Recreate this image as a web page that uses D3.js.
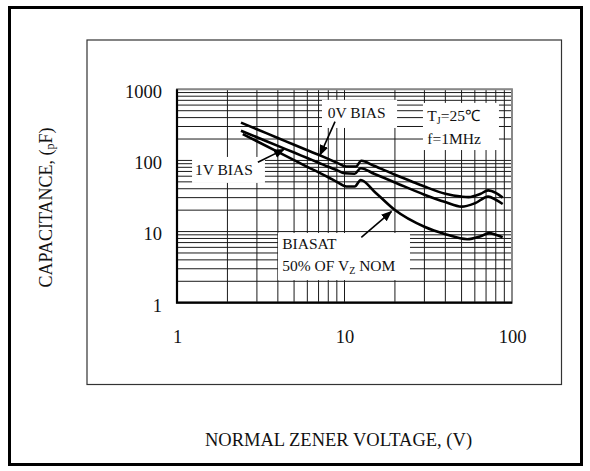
<!DOCTYPE html>
<html>
<head>
<meta charset="utf-8">
<script src="https://cdn.jsdelivr.net/npm/d3@7"></script>
<style>
  body { margin: 0; background: #fff; }
  svg text { font-family: "Liberation Serif", "Times New Roman", serif; fill: #111; }
</style>
</head>
<body>
<svg id="chart" width="590" height="471"></svg>
<script>
// capacitance vs nominal zener voltage (log-log)
var voltsTop = [2.41, 3, 4, 5, 6, 7, 8, 9, 10.25, 11.7, 12.6, 15, 20, 25, 30, 40, 50, 55, 65, 72, 80, 88];
var cap0V    = [340, 274, 207, 166, 139, 120, 105, 93, 82, 82, 99, 84, 63, 51, 43, 34, 31, 30.5, 34, 38, 35, 30];

var voltsMid = [2.41, 3, 4, 5, 6, 7, 8, 9, 10, 11.5, 12.5, 15, 20, 30, 40, 50, 60, 72, 80, 88];
var cap1V    = [262, 212, 160, 129, 108, 93, 81.5, 73, 66, 65, 77.7, 65, 49, 33, 26, 22.4, 25, 31, 28, 24.4];

var voltsLow = [2.47, 3, 4, 5, 6, 7, 8, 9, 10.25, 11.5, 12.5, 15, 20, 30, 40, 54, 65, 73, 80, 88];
var capHalf  = [234, 186, 132, 101, 81, 68, 58, 50, 43, 43, 53, 37, 20.1, 11.7, 9.2, 7.8, 8.6, 9.5, 9, 8.3];

var xTickLabels = [1, 10, 100];
var yTickLabels = [1, 10, 100, 1000];

// annotation boxes [v0, v1, c0, c1] in data units
var boxes = [
  [7.34, 20.6, 711, 286],    // 0V BIAS
  [29.4, 83.6, 644, 140],    // TJ / f
  [1.23, 3.35, 112, 48.3],   // 1V BIAS
  [4.01, 24.6, 9.55, 2.08]   // BIASAT
];
// arrows [fromV, fromC, toV, toC]
var arrows = [
  [8.78, 351, 7.14, 119],
  [3.04, 94.3, 4.35, 143],
  [12.6, 8.3, 19.05, 19.1]
];

var svg = d3.select("#chart");

svg.append("rect").attr("width", 590).attr("height", 471).attr("fill", "#fff");

// outer frame + inner box
svg.append("rect")
  .attr("x", 9.5).attr("y", 7.5).attr("width", 572).attr("height", 457)
  .attr("fill", "none").attr("stroke", "#000").attr("stroke-width", 3);
svg.append("rect")
  .attr("x", 87).attr("y", 40).attr("width", 474.5).attr("height", 344.5)
  .attr("fill", "none").attr("stroke", "#333").attr("stroke-width", 1.2);

var x = d3.scaleLog().domain([1, 100]).range([177, 512]);
var y = d3.scaleLog().domain([1, 1000]).range([302.7, 89.3]);

var g = svg.append("g");

// grid
g.selectAll(".vgrid").data(x.ticks()).enter().append("line")
  .attr("x1", d => x(d)).attr("x2", d => x(d))
  .attr("y1", y(1)).attr("y2", y(1000))
  .attr("stroke", "#1a1a1a").attr("stroke-width", 1);
g.selectAll(".hgrid").data(y.ticks()).enter().append("line")
  .attr("x1", x(1)).attr("x2", x(100))
  .attr("y1", d => y(d)).attr("y2", d => y(d))
  .attr("stroke", "#1a1a1a").attr("stroke-width", 1);

// white label boxes
g.selectAll(".box").data(boxes).enter().append("rect")
  .attr("x", d => x(d[0])).attr("y", d => y(d[2]))
  .attr("width", d => x(d[1]) - x(d[0]))
  .attr("height", d => y(d[3]) - y(d[2]))
  .attr("fill", "#fff");

// plot frame
g.append("rect")
  .attr("x", x(1)).attr("y", y(1000))
  .attr("width", x(100) - x(1)).attr("height", y(1) - y(1000))
  .attr("fill", "none").attr("stroke", "#888").attr("stroke-width", 2);
g.append("path")
  .attr("d", "M" + x(1) + "," + y(1000) + "V" + y(1) + "H" + x(100))
  .attr("fill", "none").attr("stroke", "#000").attr("stroke-width", 2.2);

// curves
var line = d3.line()
  .x(d => x(d[0])).y(d => y(d[1]))
  .curve(d3.curveMonotoneX);

[[voltsTop, cap0V], [voltsMid, cap1V], [voltsLow, capHalf]].forEach(function(s) {
  g.append("path")
    .datum(d3.zip(s[0], s[1]))
    .attr("d", line)
    .attr("fill", "none").attr("stroke", "#000").attr("stroke-width", 2.6)
    .attr("stroke-linejoin", "round");
});

// arrows
svg.append("defs").append("marker")
  .attr("id", "head").attr("viewBox", "0 0 10 10")
  .attr("refX", 9).attr("refY", 5)
  .attr("markerWidth", 11).attr("markerHeight", 11)
  .attr("markerUnits", "userSpaceOnUse")
  .attr("orient", "auto")
  .append("path").attr("d", "M0,1L10,5L0,9Z").attr("fill", "#000");

g.selectAll(".arrow").data(arrows).enter().append("line")
  .attr("x1", d => x(d[0])).attr("y1", d => y(d[1]))
  .attr("x2", d => x(d[2])).attr("y2", d => y(d[3]))
  .attr("stroke", "#000").attr("stroke-width", 1.6)
  .attr("marker-end", "url(#head)");

// annotation text
var note = g.append("g").attr("font-size", "15.5px");
note.append("text").attr("x", x(7.95)).attr("y", 118).text("0V BIAS");
note.append("text").attr("x", x(1.28)).attr("y", 175).text("1V BIAS");
var tj = note.append("text").attr("x", x(31.2)).attr("y", 121);
tj.append("tspan").text("T");
tj.append("tspan").attr("font-size", "10px").attr("dy", 3).text("J");
tj.append("tspan").attr("dy", -3).text("=25\u2103");
note.append("text").attr("x", x(31.2)).attr("y", 144).text("f=1MHz");
note.append("text").attr("x", x(4.25)).attr("y", 249).text("BIASAT");
var vz = note.append("text").attr("x", x(4.25)).attr("y", 271);
vz.append("tspan").text("50% OF V");
vz.append("tspan").attr("font-size", "10px").attr("dy", 3).text("Z");
vz.append("tspan").attr("dy", -3).text(" NOM");

// axes
var xAxis = svg.append("g")
  .attr("transform", "translate(0," + y(1) + ")")
  .call(d3.axisBottom(x).tickValues(xTickLabels).tickSize(0).tickPadding(27).tickFormat(d3.format("d")));
var yAxis = svg.append("g")
  .attr("transform", "translate(" + x(1) + ",0)")
  .call(d3.axisLeft(y).tickValues(yTickLabels).tickSize(0).tickPadding(15).tickFormat(d3.format("d")));
[xAxis, yAxis].forEach(function(a) {
  a.select(".domain").remove();
  a.selectAll("text").attr("font-size", "18.5px")
    .attr("font-family", "'Liberation Serif', 'Times New Roman', serif").attr("fill", "#111");
});
yAxis.selectAll("text").attr("dy", "0.45em");

// axis titles
svg.append("text")
  .attr("x", 338.5).attr("y", 446)
  .attr("text-anchor", "middle").attr("font-size", "18.5px")
  .text("NORMAL ZENER VOLTAGE, (V)");

var yt = svg.append("text")
  .attr("transform", "translate(52,207.5) rotate(-90)")
  .attr("text-anchor", "middle").attr("font-size", "18px");
yt.append("tspan").text("CAPACITANCE, (");
yt.append("tspan").attr("font-size", "12px").attr("dy", 2).text("p");
yt.append("tspan").attr("dy", -2).text("F)");
</script>
</body>
</html>
